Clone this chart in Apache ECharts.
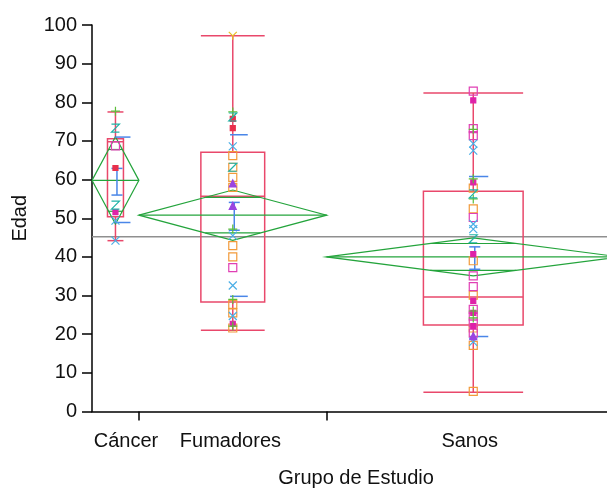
<!DOCTYPE html>
<html>
<head>
<meta charset="utf-8">
<script src="https://cdn.jsdelivr.net/npm/echarts@6/dist/echarts.min.js"></script>
<style>
  html, body { margin: 0; padding: 0; background: #fff; }
  #chart { width: 607px; height: 488px; }
</style>
</head>
<body>
<div id="chart"></div>
<script>
  // grupos y tamaños (el ancho de cada grupo en el eje x va con n)
  const groups = ['Cáncer', 'Fumadores', 'Sanos']
  const groupSize = [8, 32, 50]
  const labelAt = [5.8, 23.6, 64.4]   // donde van los nombres de grupo
  const visibleN = 87.8               // el gráfico original está cortado a la derecha

  // box plot
  const whiskerLow = [44.2, 21.0, 5.0]
  const boxQ1 = [50.4, 28.3, 22.4]
  const boxMedian = [69.8, 55.7, 29.6]
  const boxQ3 = [70.6, 67.1, 57.0]
  const whiskerHigh = [77.5, 97.2, 82.4]

  // diamantes de medias, desviaciones y errores
  const groupMean = [59.8, 50.8, 40.0]
  const ciHalf = [11.3, 6.5, 4.9]
  const sdLow = [48.9, 29.8, 19.4]
  const sdHigh = [71.0, 71.6, 60.8]
  const seLow = [56.0, 46.9, 36.8]
  const seHigh = [62.9, 54.1, 42.6]
  const grandMean = 45.2

  // puntos individuales [grupo, edad] por marcador
  const orangeSquarePts = [[1, 66.2], [1, 63.2], [1, 60.6], [1, 58.0], [1, 42.9], [1, 40.0], [1, 27.7], [1, 25.5], [1, 21.6],
    [2, 57.8], [2, 52.4], [2, 39.0], [2, 30.1], [2, 21.6], [2, 17.1], [2, 5.2]]
  const magentaSquarePts = [[0, 68.7], [1, 37.2], [2, 82.9], [2, 73.2], [2, 71.4], [2, 50.2], [2, 35.1], [2, 32.3],
    [2, 26.4], [2, 24.7], [2, 22.9], [2, 20.3]]
  const magentaDotPts = [[0, 51.6], [1, 22.7], [2, 80.5], [2, 59.3], [2, 40.7], [2, 28.6], [2, 25.5], [2, 22.1]]
  const redDotPts = [[0, 63.0], [1, 75.7], [1, 73.3]]
  const blueCrossPts = [[0, 49.4], [0, 44.2], [1, 68.6], [1, 45.5], [1, 32.6], [1, 24.7], [2, 69.3], [2, 67.5],
    [2, 48.5], [2, 47.2], [2, 18.0]]
  const greenPlusPts = [[0, 77.7], [1, 77.5], [1, 47.2], [1, 29.0], [1, 22.1], [2, 73.0], [2, 60.2], [2, 55.0],
    [2, 26.0], [2, 24.2]]
  const tealZPts = [[0, 73.3], [0, 53.4], [1, 76.2], [1, 63.2], [2, 56.3], [2, 44.7]]
  const purpleTriPts = [[1, 59.0], [1, 53.2], [2, 19.5]]
  const yellowYPts = [[1, 97.2]]

  const yTicks = [0, 10, 20, 30, 40, 50, 60, 70, 80, 90, 100]

  const totalN = groupSize.reduce((a, b) => a + b, 0)
  const groupStart = []
  groupSize.reduce((acc, n, i) => { groupStart[i] = acc; return acc + n }, 0)
  const groupCenter = groupSize.map((n, i) => groupStart[i] + n / 2)
  const boundaries = groupStart.slice(1)

  const BOX = '#e9486b'
  const GREEN = '#24a43c'
  const BLUE = '#4a86e8'
  const FONT = 'Liberation Sans'

  function renderGroup (params, api) {
    const i = api.value(0)
    const c = groupCenter[i]
    const h = groupSize[i] / 2
    const bw = groupSize[i] * 0.17
    const p = (x, y) => api.coord([x, y])
    const line = (a, b, color, w) => ({
      type: 'line',
      shape: { x1: a[0], y1: a[1], x2: b[0], y2: b[1] },
      style: { stroke: color, lineWidth: w || 1.5 }
    })
    const m = groupMean[i]
    const ci = ciHalf[i]
    const ov = ci * Math.SQRT1_2
    const d = h * (1 - Math.SQRT1_2)
    const topLeft = p(c - bw, boxQ3[i])
    const botRight = p(c + bw, boxQ1[i])
    const cx = p(c, m)[0]
    const children = [
      // caja
      {
        type: 'rect',
        shape: { x: topLeft[0], y: topLeft[1], width: botRight[0] - topLeft[0], height: botRight[1] - topLeft[1] },
        style: { fill: 'none', stroke: BOX, lineWidth: 1.5 }
      },
      line(p(c - bw, boxMedian[i]), p(c + bw, boxMedian[i]), BOX),
      line(p(c, boxQ3[i]), p(c, whiskerHigh[i]), BOX),
      line(p(c, boxQ1[i]), p(c, whiskerLow[i]), BOX),
      line(p(c - bw, whiskerHigh[i]), p(c + bw, whiskerHigh[i]), BOX),
      line(p(c - bw, whiskerLow[i]), p(c + bw, whiskerLow[i]), BOX),
      // diamante
      {
        type: 'polygon',
        shape: { points: [p(c - h, m), p(c, m + ci), p(c + h, m), p(c, m - ci)] },
        style: { fill: 'none', stroke: GREEN, lineWidth: 1.2 }
      },
      line(p(c - h, m), p(c + h, m), GREEN, 1.2),
      line(p(c - d, m + ov), p(c + d, m + ov), GREEN, 1.2),
      line(p(c - d, m - ov), p(c + d, m - ov), GREEN, 1.2),
      // desviación estándar
      line([cx - Math.min(8, h * 0.17), p(c, sdHigh[i])[1]], [cx + 15, p(c, sdHigh[i])[1]], BLUE, 1.5),
      line([cx - Math.min(8, h * 0.17), p(c, sdLow[i])[1]], [cx + 15, p(c, sdLow[i])[1]], BLUE, 1.5),
      // error de la media
      line([cx + 1.5, p(c, seHigh[i])[1]], [cx + 1.5, p(c, seLow[i])[1]], BLUE, 1.5),
      line([cx - 4, p(c, seHigh[i])[1]], [cx + 7, p(c, seHigh[i])[1]], BLUE, 1.5),
      line([cx - 4, p(c, seLow[i])[1]], [cx + 7, p(c, seLow[i])[1]], BLUE, 1.5)
    ]
    return { type: 'group', children: children }
  }

  function pts (list) {
    return list.map(d => [groupCenter[d[0]], d[1]])
  }

  function marker (list, symbol, size, fill, stroke) {
    return {
      type: 'scatter',
      data: pts(list),
      symbol: symbol,
      symbolSize: size,
      z: 5,
      itemStyle: { color: fill, borderColor: stroke, borderWidth: 1.2, opacity: 1 },
      emphasis: { disabled: true }
    }
  }

  const chart = echarts.init(document.getElementById('chart'), null, { renderer: 'canvas' })
  chart.setOption({
    animation: false,
    backgroundColor: '#fff',
    textStyle: { fontFamily: FONT },
    grid: { left: 92, right: 0, top: 25, bottom: 76.5, containLabel: false, outerBoundsMode: 'none' },
    xAxis: {
      type: 'value',
      min: 0,
      max: visibleN,
      name: 'Grupo de Estudio',
      nameLocation: 'middle',
      nameGap: 57,
      nameTextStyle: { fontFamily: FONT, fontSize: 20, color: '#111', padding: [0, 0, 0, 13] },
      axisLine: { show: true, onZero: false, lineStyle: { color: '#000', width: 1.5 } },
      axisTick: { show: true, length: 9, customValues: boundaries, lineStyle: { color: '#000', width: 1.5 } },
      axisLabel: {
        customValues: labelAt,
        margin: 20,
        fontFamily: FONT,
        fontSize: 20,
        color: '#111',
        formatter: v => groups[labelAt.indexOf(v)]
      },
      splitLine: { show: false }
    },
    yAxis: {
      type: 'value',
      min: 0,
      max: 100,
      interval: 10,
      name: 'Edad',
      nameLocation: 'middle',
      nameRotate: 90,
      nameGap: 62,
      nameTextStyle: { fontFamily: FONT, fontSize: 20, color: '#111' },
      axisLine: { show: true, lineStyle: { color: '#000', width: 1.5 } },
      axisTick: { show: true, length: 10, customValues: yTicks, lineStyle: { color: '#000', width: 1.5 } },
      axisLabel: { margin: 15, fontFamily: FONT, fontSize: 20, color: '#111', customValues: yTicks },
      splitLine: { show: false }
    },
    series: [
      {
        type: 'line',
        data: [[0, grandMean], [totalN, grandMean]],
        symbol: 'none',
        z: 1,
        lineStyle: { color: '#8f8f8f', width: 1.5 }
      },
      {
        type: 'custom',
        data: groups.map((g, i) => [i]),
        renderItem: renderGroup,
        z: 3,
        silent: true
      },
      marker(orangeSquarePts, 'rect', 8, 'rgba(0,0,0,0)', '#f29a3a'),
      marker(magentaSquarePts, 'rect', 8, 'rgba(0,0,0,0)', '#e03fb4'),
      marker(magentaDotPts, 'rect', 5, '#de22a8', '#de22a8'),
      marker(redDotPts, 'rect', 5, '#e8304c', '#e8304c'),
      marker(blueCrossPts, 'path://M0,0L10,10M10,0L0,10', 8, 'rgba(0,0,0,0)', '#4aaee6'),
      marker(greenPlusPts, 'path://M5,0L5,10M0,5L10,5', 9, 'rgba(0,0,0,0)', '#5cbf3a'),
      marker(tealZPts, 'path://M0,0L10,0L0,10L10,10', 8, 'rgba(0,0,0,0)', '#1fb3a6'),
      marker(purpleTriPts, 'triangle', 7, '#9a45e0', '#9a45e0'),
      marker(yellowYPts, 'path://M0,0L5,5L10,0M5,5L5,10', 8, 'rgba(0,0,0,0)', '#e6c024')
    ]
  })
</script>
</body>
</html>
